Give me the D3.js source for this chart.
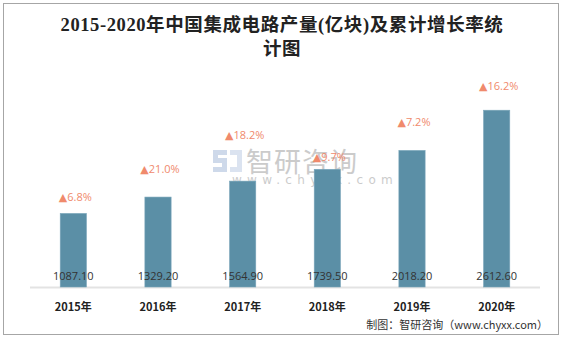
<!DOCTYPE html>
<html><head><meta charset="utf-8">
<script src="https://cdn.jsdelivr.net/npm/d3@7"></script>
<style>body{margin:0;background:#fff;}svg{display:block;}</style>
</head><body>
<svg id="c" width="564" height="338"></svg>
<script>
const years = ["2015年","2016年","2017年","2018年","2019年","2020年"];
const output = [1087.10, 1329.20, 1564.90, 1739.50, 2018.20, 2612.60];
const growth = ["6.8%","21.0%","18.2%","9.7%","7.2%","16.2%"];
// hidden helper series (in value units) where the growth labels sit
const growthLabelLevel = [1330, 1745, 2245, 1920, 2440, 2970];

const svg = d3.select("#c");
svg.append("rect").attr("x",3.5).attr("y",3.5).attr("width",555).attr("height",331)
  .attr("fill","#fff").attr("stroke","#a6a6a6").attr("stroke-width",1);

const x = d3.scaleBand().domain(years).range([31,539]).paddingInner(0.69).paddingOuter(0.345);
const y = d3.scaleLinear().domain([0,3000]).range([287,84]);

// title
const title = svg.append("text").attr("text-anchor","middle").attr("fill","#222")
  .style("font-family","'Liberation Serif','Noto Sans CJK SC',serif").style("font-size","18.5px").style("font-weight","bold")
  .style("letter-spacing","0.6px");
title.append("tspan").attr("x",282).attr("y",31).text("2015-2020年中国集成电路产量(亿块)及累计增长率统");
title.append("tspan").attr("x",282).attr("y",55).text("计图");

// watermark
const wm = svg.append("g").attr("opacity",0.5);
wm.append("path").attr("d","M213,150 h14 v5 h-9 v3 h9 v14 h-14 v-5 h9 v-4 h-9 z").attr("fill","#9fb5d6");
wm.append("path").attr("d","M230,150 h12 v22 h-12 v-5 h7 v-12 h-7 z").attr("fill","#b9c9e2");
wm.append("text").attr("x",246).attr("y",172).attr("fill","#999")
  .style("font-family","'Noto Sans CJK SC',sans-serif").style("font-size","27px").style("letter-spacing","1px").text("智研咨询");
wm.append("text").attr("x",232).attr("y",184).attr("fill","#999")
  .style("font-family","'DejaVu Sans',sans-serif").style("font-size","12px").style("letter-spacing","5.3px").text("www.chyxx.com");

// axis line
svg.append("line").attr("x1",30).attr("x2",540).attr("y1",y(0)+0.5).attr("y2",y(0)+0.5)
  .attr("stroke","#e3e3e3").attr("stroke-width",2);

// bars
svg.append("g").selectAll("rect").data(output).join("rect")
  .attr("x",(d,i)=>x(years[i])).attr("width",x.bandwidth())
  .attr("y",d=>y(d)).attr("height",d=>y(0)-y(d))
  .attr("fill","#5b8fa6").attr("stroke","#7aa6ba").attr("stroke-width",0.6);

// value labels
svg.append("g").selectAll("text").data(output).join("text")
  .attr("x",(d,i)=>x(years[i])+x.bandwidth()/2).attr("y",280)
  .attr("text-anchor","middle").attr("fill","#333")
  .style("font-family","'Open Sans','DejaVu Sans',sans-serif").style("font-size","11px")
  .text(d=>d.toFixed(2));

// growth labels
svg.append("g").selectAll("text").data(growth).join("text")
  .attr("x",(d,i)=>x(years[i])+x.bandwidth()/2+2).attr("y",(d,i)=>y(growthLabelLevel[i])+4)
  .attr("text-anchor","middle").attr("fill","#f08a6c")
  .style("font-family","'Open Sans','DejaVu Sans',sans-serif").style("font-size","11px")
  .text(d=>"▲"+d);

// year labels
svg.append("g").selectAll("text").data(years).join("text")
  .attr("x",d=>x(d)+x.bandwidth()/2).attr("y",311)
  .attr("text-anchor","middle").attr("fill","#222")
  .style("font-family","'Noto Sans CJK SC',sans-serif").style("font-size","11px").style("font-weight","bold")
  .text(d=>d);

// source
svg.append("text").attr("x",548).attr("y",329).attr("text-anchor","end").attr("fill","#333")
  .style("font-family","'Noto Sans CJK SC',sans-serif").style("font-size","11px")
  .text("制图：智研咨询（www.chyxx.com）");
</script>
</body></html>
